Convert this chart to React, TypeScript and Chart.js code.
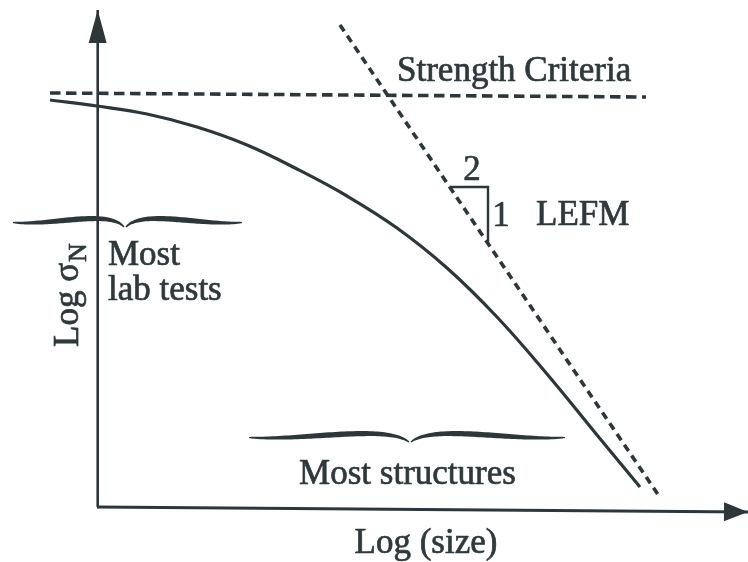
import React, { useEffect, useRef } from "react";
import { Chart, registerables } from "chart.js";

Chart.register(...registerables);

// ---- data (log units) ----
const curveLogSize = [-0.47, 0.0, 0.5, 1.0, 1.5, 2.0, 2.5, 3.0, 3.5, 4.0, 4.5, 5.0, 5.43];
const curveLogStrength = [4.07, 4.01, 3.93, 3.8, 3.62, 3.38, 3.11, 2.79, 2.39, 1.9, 1.33, 0.72, 0.2];

const strengthLogSize = [-0.47, 5.49];
const strengthLogStrength = [4.14, 4.1];

const lefmLogSize = [2.43, 5.62];
const lefmLogStrength = [4.82, 0.11];

const slopeLogSize = [3.53, 3.91, 3.91];
const slopeLogStrength = [3.2, 3.2, 2.65];

const xAxisX = [0, 6.51];
const xAxisY = [0, -0.05];
const yAxisX = [0, 0.007];
const yAxisY = [0, 4.97];

// braces: [left end, cusp, right end] in log-size, and level in log-strength
const labBraceX = [-0.84, 0.28, 1.45];
const labBraceY = [2.86];
const structBraceX = [1.52, 3.13, 4.68];
const structBraceY = [0.71];

// label texts
const labels = ["Strength Criteria", "2", "1", "LEFM", "Most", "lab tests", "Most structures", "Log (size)"];
const labelX = [3.0, 3.75, 4.04, 4.39, 0.11, 0.11, 3.105, 3.29];
const labelY = [4.26, 3.27, 2.81, 2.82, 2.42, 2.07, 0.23, -0.46];
const labelAlign = ["left", "center", "center", "left", "left", "left", "center", "center"];
const yTitleMain = "Log σ";
const yTitleSub = "N";
const yTitleX = [-0.19];
const yTitleY = [1.6];

const INK = "#2d373a";
const TEXT = "#2f393c";
const FONT = "'Liberation Serif', 'Times New Roman', serif";

const pts = (xs: number[], ys: number[]) => xs.map((x, i) => ({ x, y: ys[i] }));

function drawArrow(ctx: CanvasRenderingContext2D, fx: number, fy: number, tx: number, ty: number, len: number, half: number) {
  const a = Math.atan2(ty - fy, tx - fx);
  const bx = tx - Math.cos(a) * len;
  const by = ty - Math.sin(a) * len;
  const nx = -Math.sin(a) * half;
  const ny = Math.cos(a) * half;
  ctx.beginPath();
  ctx.moveTo(tx, ty);
  ctx.lineTo(bx + nx, by + ny);
  ctx.lineTo(bx - nx, by - ny);
  ctx.closePath();
  ctx.fill();
}

function bez(p: number[][], t: number) {
  const u = 1 - t;
  const a = u * u * u, b = 3 * u * u * t, c = 3 * u * t * t, d = t * t * t;
  return [a * p[0][0] + b * p[1][0] + c * p[2][0] + d * p[3][0], a * p[0][1] + b * p[1][1] + c * p[2][1] + d * p[3][1]];
}

function drawTaper(ctx: CanvasRenderingContext2D, p: number[][], maxW: number) {
  const N = 60;
  const top: number[][] = [];
  const bot: number[][] = [];
  for (let i = 0; i <= N; i++) {
    const t = i / N;
    const c = bez(p, t);
    const c2 = bez(p, Math.min(1, t + 0.001));
    const c1 = bez(p, Math.max(0, t - 0.001));
    let dx = c2[0] - c1[0], dy = c2[1] - c1[1];
    const l = Math.hypot(dx, dy) || 1;
    dx /= l; dy /= l;
    const w = 0.6 + (maxW * Math.pow(Math.sin(Math.PI * t), 0.8)) / 2;
    top.push([c[0] - dy * w, c[1] + dx * w]);
    bot.push([c[0] + dy * w, c[1] - dx * w]);
  }
  ctx.beginPath();
  ctx.moveTo(top[0][0], top[0][1]);
  for (const q of top) ctx.lineTo(q[0], q[1]);
  for (let i = bot.length - 1; i >= 0; i--) ctx.lineTo(bot[i][0], bot[i][1]);
  ctx.closePath();
  ctx.fill();
}

function drawBrace(ctx: CanvasRenderingContext2D, xl: number, xc: number, xr: number, y: number) {
  const L = xc - xl;
  const R = xr - xc;
  const left = [[xl, y + 1.5], [xl + 0.35 * L, y + 5], [xc - 0.15 * L, y - 12], [xc - 1, y + 6]];
  const right = [[xc + 1, y + 6], [xc + 0.15 * R, y - 12], [xr - 0.35 * R, y + 5], [xr, y + 1.5]];
  drawTaper(ctx, left, 4.2);
  drawTaper(ctx, right, 4.2);
}

function heavyText(ctx: CanvasRenderingContext2D, t: string, x: number, y: number) {
  ctx.fillText(t, x, y);
  ctx.strokeText(t, x, y);
}

const annotPlugin = {
  id: "annot",
  afterDatasetsDraw(chart: any) {
    const ctx: CanvasRenderingContext2D = chart.ctx;
    const xs = chart.scales.x;
    const ys = chart.scales.y;
    const px = (v: number) => xs.getPixelForValue(v);
    const py = (v: number) => ys.getPixelForValue(v);
    ctx.save();
    ctx.fillStyle = INK;
    // axis arrowheads
    drawArrow(ctx, px(yAxisX[0]), py(yAxisY[0]), px(yAxisX[1]), py(yAxisY[1]), 33, 9);
    drawArrow(ctx, px(xAxisX[0]), py(xAxisY[0]), px(xAxisX[1]), py(xAxisY[1]), 24, 9.5);
    // braces
    drawBrace(ctx, px(labBraceX[0]), px(labBraceX[1]), px(labBraceX[2]), py(labBraceY[0]));
    drawBrace(ctx, px(structBraceX[0]), px(structBraceX[1]), px(structBraceX[2]), py(structBraceY[0]));
    // labels
    ctx.fillStyle = TEXT;
    ctx.strokeStyle = TEXT;
    ctx.lineWidth = 0.7;
    ctx.lineJoin = "round";
    ctx.textBaseline = "alphabetic";
    ctx.font = `35px ${FONT}`;
    labels.forEach((t, i) => {
      ctx.textAlign = labelAlign[i] as CanvasTextAlign;
      heavyText(ctx, t, px(labelX[i]), py(labelY[i]));
    });
    // y title, rotated
    ctx.save();
    ctx.translate(px(yTitleX[0]), py(yTitleY[0]));
    ctx.rotate(-Math.PI / 2);
    ctx.textAlign = "left";
    ctx.font = `35px ${FONT}`;
    heavyText(ctx, yTitleMain, 0, 0);
    const w = ctx.measureText(yTitleMain).width;
    ctx.font = `26px ${FONT}`;
    heavyText(ctx, yTitleSub, w + 1, 8);
    ctx.restore();
    ctx.restore();
  },
};

export default function App() {
  const ref = useRef<HTMLCanvasElement | null>(null);
  useEffect(() => {
    if (!ref.current) return;
    const common = { showLine: true, pointRadius: 0, pointHoverRadius: 0, fill: false };
    const chart = new Chart(ref.current, {
      type: "scatter",
      data: {
        datasets: [
          { ...common, label: "x axis", data: pts(xAxisX, xAxisY), borderColor: INK, borderWidth: 2.8 },
          { ...common, label: "y axis", data: pts(yAxisX, yAxisY), borderColor: INK, borderWidth: 2.6 },
          {
            ...common,
            label: "Size effect",
            data: pts(curveLogSize, curveLogStrength),
            borderColor: INK,
            borderWidth: 3.2,
            tension: 0.4,
          },
          {
            ...common,
            label: "Strength Criteria",
            data: pts(strengthLogSize, strengthLogStrength),
            borderColor: INK,
            borderWidth: 3.6,
            borderDash: [10.5, 5.5],
          },
          {
            ...common,
            label: "LEFM",
            data: pts(lefmLogSize, lefmLogStrength),
            borderColor: INK,
            borderWidth: 3.6,
            borderDash: [7.5, 5.5],
          },
          {
            ...common,
            label: "slope",
            data: pts(slopeLogSize, slopeLogStrength),
            borderColor: INK,
            borderWidth: 2.4,
          },
        ],
      } as any,
      options: {
        animation: false,
        responsive: false,
        maintainAspectRatio: false,
        layout: { padding: 0 },
        events: [],
        plugins: { legend: { display: false }, tooltip: { enabled: false }, title: { display: false } },
        scales: {
          x: { type: "linear", min: -0.97, max: 6.51, display: false },
          y: { type: "linear", min: -0.55, max: 5.07, display: false },
        },
      } as any,
      plugins: [annotPlugin],
    });
    return () => chart.destroy();
  }, []);
  return (
    <div style={{ position: "fixed", left: 0, top: 0, width: 748, height: 562, background: "#fff" }}>
      <canvas ref={ref} width={748} height={562} style={{ display: "block", width: 748, height: 562 }} />
    </div>
  );
}
